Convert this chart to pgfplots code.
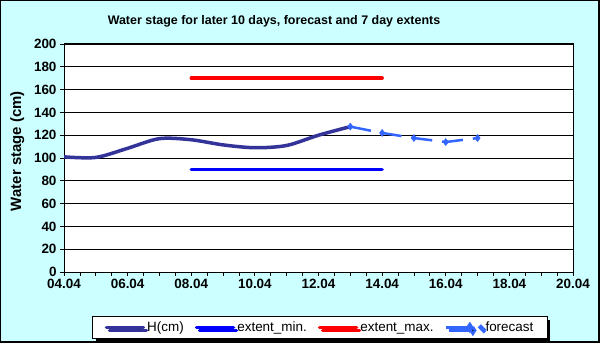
\documentclass[border=0pt]{standalone}
\usepackage{fontspec}
\setmainfont{Liberation Sans}
\usepackage{pgfplots}
\pgfplotsset{compat=1.18}
\usetikzlibrary{shadows}

\definecolor{bgcyan}{HTML}{CCFFFF}
\definecolor{hnavy}{HTML}{333399}
\definecolor{fcblue}{HTML}{3366FF}
\definecolor{minblue}{HTML}{0000FF}
\definecolor{maxred}{HTML}{FF0000}

\begin{document}
\begin{tikzpicture}[x=1bp,y=1bp]
\useasboundingbox (0,0) rectangle (600,343);
% chart area background
\fill[bgcyan] (0,0) rectangle (600,343);
\draw[black, line width=1bp] (0.5,0.5) rectangle (599.5,342.5);
\draw[black, line width=2bp] (1,1) -- (599,1) -- (599,342);

\node[font=\bfseries\fontsize{12.5}{14}\selectfont] at (274,322) {Water stage for later 10 days, forecast and 7 day extents};

\begin{axis}[
    at={(64bp,71bp)}, anchor=south west,
    scale only axis, width=509bp, height=228bp,
    axis background/.style={fill=white},
    xmin=4, xmax=20, ymin=0, ymax=200,
    xtick={4,6,...,20},
    xticklabels={04.04,06.04,08.04,10.04,12.04,14.04,16.04,18.04,20.04},
    minor x tick num=3,
    ytick={0,20,...,200},
    ymajorgrids,
    grid style={black, line width=0.8bp},
    axis line style={black, line width=1bp},
    tick style={black, line width=0.8bp},
    tick align=outside, tick pos=left,
    major tick length=4bp, minor tick length=4bp,
    /pgf/number format/assume math mode=true,
    ticklabel style={font=\bfseries\fontsize{13.5}{14}\selectfont},
    ylabel={Water stage (cm)},
    y label style={font=\bfseries\fontsize{15}{16}\selectfont, at={(axis description cs:-0.092,0.53)}, anchor=center},
    legend columns=4,
    legend style={
        at={(axis description cs:0.503,-0.243)}, anchor=center,
        draw=black, line width=0.8bp, fill=white,
        drop shadow={fill=black, opacity=1, shadow xshift=3bp, shadow yshift=-3bp},
        font=\fontsize{13.5}{15}\selectfont,
        inner xsep=12bp, inner ysep=3bp,
        nodes={inner xsep=2bp, inner ysep=2bp},
        /tikz/every odd column/.append style={column sep=0bp},
        /tikz/every even column/.append style={column sep=9bp},
    },
    legend image code/.code={
        \draw[#1] (0bp,0bp) -- (37bp,0bp);
    },
]
\addplot[hnavy, line width=3.5bp, smooth, line cap=round] coordinates {
    (4,101) (5,100.5) (6,108.5) (7,117) (8,116) (9,111.5) (10,109) (11,111) (12,120) (13,127.5)
};
\addlegendentry{H(cm)}
\addplot[minblue, line width=3.5bp, line cap=round] coordinates {(8,90) (14,90)};
\addlegendentry{extent\_min.}
\addplot[maxred, line width=3.5bp, line cap=round] coordinates {(8,170) (14,170)};
\addlegendentry{extent\_max.}
\addplot[fcblue, line width=2.5bp, dash pattern=on 21bp off 10bp,
    mark=diamond*, mark size=3.5bp, mark options={solid, fill=fcblue, line width=0.5bp},
    legend image code/.code={
        \draw[fcblue, solid, line width=2.5bp] (0bp,0bp) -- (24bp,0bp);
        \fill[fcblue, solid] (24bp,0bp) +(0,3.5bp) -- +(2.3bp,0) -- +(0,-3.5bp) -- +(-2.3bp,0) -- cycle;
        \fill[fcblue, solid] (35bp,0bp) circle (1.4bp);
    }] coordinates {
    (13,127.5) (14,122) (15,117.5) (16,114) (17,117.5)
};
\addlegendentry{forecast}
\end{axis}
\end{tikzpicture}
\end{document}
